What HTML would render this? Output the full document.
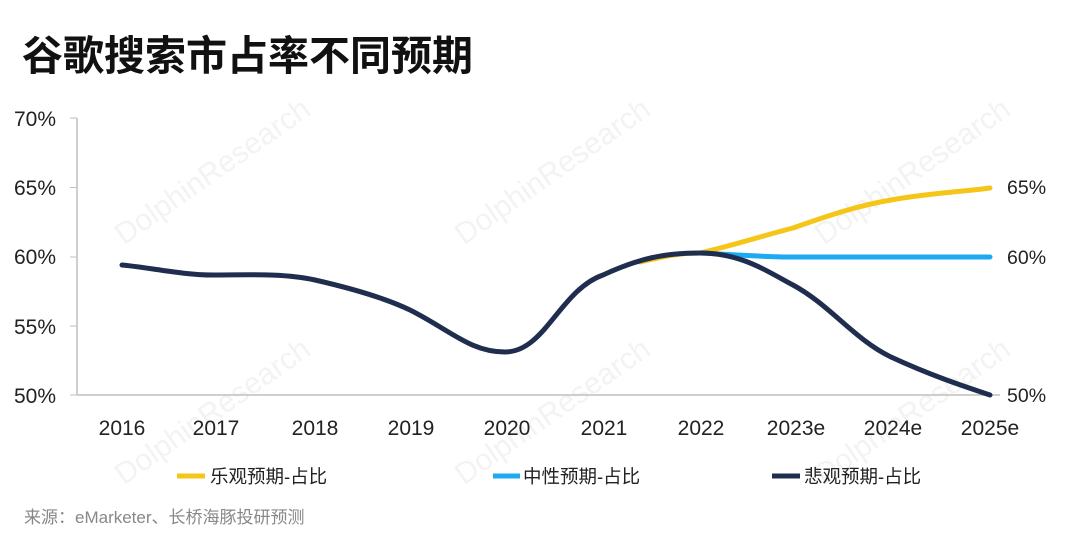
<!DOCTYPE html>
<html><head><meta charset="utf-8"><style>
body{margin:0;background:#fff;}
svg{display:block;font-family:"Liberation Sans","Noto Sans CJK SC",sans-serif;}
</style></head><body>
<svg width="1080" height="538" viewBox="0 0 1080 538">
<rect width="1080" height="538" fill="#fff"/>
<text x="22" y="70" font-size="41" font-weight="bold" fill="#111">谷歌搜索市占率不同预期</text>
<g fill="#f3f3f3" font-size="30" transform="rotate(-35 200 180)"><text x="100" y="190">DolphinResearch</text></g>
<g fill="#f3f3f3" font-size="30" transform="rotate(-35 540 180)"><text x="440" y="190">DolphinResearch</text></g>
<g fill="#f3f3f3" font-size="30" transform="rotate(-35 900 180)"><text x="800" y="190">DolphinResearch</text></g>
<g fill="#f3f3f3" font-size="30" transform="rotate(-35 200 420)"><text x="100" y="430">DolphinResearch</text></g>
<g fill="#f3f3f3" font-size="30" transform="rotate(-35 540 420)"><text x="440" y="430">DolphinResearch</text></g>
<g fill="#f3f3f3" font-size="30" transform="rotate(-35 900 420)"><text x="800" y="430">DolphinResearch</text></g>
<line x1="77" y1="118" x2="77" y2="395" stroke="#bfbfbf" stroke-width="1.5"/>
<line x1="77" y1="395" x2="1000" y2="395" stroke="#bfbfbf" stroke-width="1.5"/>
<g stroke="#bfbfbf"><line x1="70" y1="118" x2="77" y2="118"/><line x1="70" y1="187.5" x2="77" y2="187.5"/><line x1="70" y1="257" x2="77" y2="257"/><line x1="70" y1="326" x2="77" y2="326"/><line x1="70" y1="395" x2="77" y2="395"/></g>
<g font-size="21" fill="#222" text-anchor="end">
<text x="56" y="126">70%</text><text x="56" y="195">65%</text><text x="56" y="264">60%</text><text x="56" y="334">55%</text><text x="56" y="403">50%</text>
</g>
<g font-size="21" fill="#222" text-anchor="middle">
<text x="122" y="435">2016</text><text x="216" y="435">2017</text><text x="315" y="435">2018</text><text x="411" y="435">2019</text><text x="507" y="435">2020</text><text x="604" y="435">2021</text><text x="701" y="435">2022</text><text x="796" y="435">2023e</text><text x="893" y="435">2024e</text><text x="990" y="435">2025e</text>
</g>
<g font-size="19.5" fill="#222">
<text x="1007" y="194">65%</text><text x="1007" y="264">60%</text><text x="1007" y="402">50%</text>
</g>
<g fill="none" stroke-width="5" stroke-linecap="round">
<path d="M640,262 C665,256 680,253 700,253 C735,245 765,235 793,228 C830,215 860,205 891,200 C930,193 960,192 990,188" stroke="#f5c518"/>
<path d="M700,253 C740,255 765,257 793,257 L990,257" stroke="#1eaaf1"/>
<path d="M122,265 C152,268 183,275 213,275 C245,275 283,273 315,280 C350,288 385,298 410,310 C450,330 470,352 505,352 C545,352 560,290 603,275 C640,258 665,253 700,253 C740,253 765,270 793,285 C830,305 855,340 891,357 C930,375 960,385 990,395" stroke="#1f2d4e"/>
</g>
<g stroke-width="5"><line x1="177" y1="476" x2="205" y2="476" stroke="#f5c518"/><line x1="493" y1="476" x2="520" y2="476" stroke="#1eaaf1"/><line x1="772" y1="476" x2="800" y2="476" stroke="#1f2d4e"/></g>
<g font-size="18.5" fill="#222"><text x="210" y="483">乐观预期-占比</text><text x="523" y="483">中性预期-占比</text><text x="804" y="483">悲观预期-占比</text></g>
<text x="24" y="523" font-size="17" fill="#888">来源：eMarketer、长桥海豚投研预测</text>
</svg>
</body></html>
